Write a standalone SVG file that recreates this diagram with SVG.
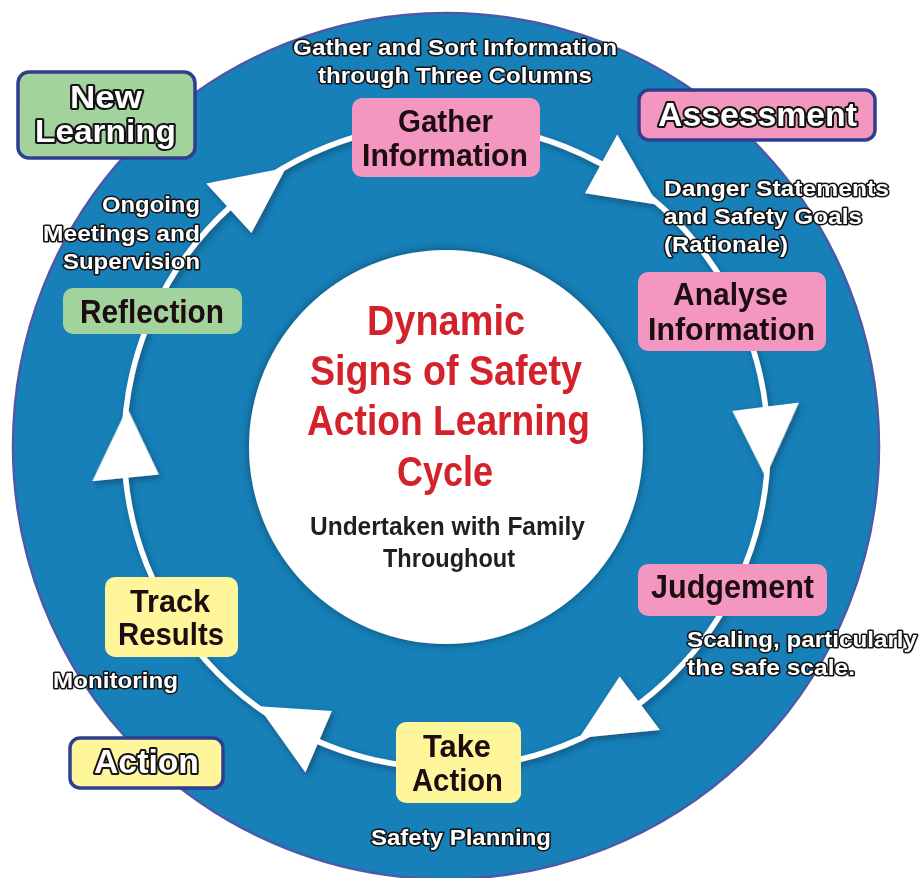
<svg xmlns="http://www.w3.org/2000/svg" width="920" height="878" viewBox="0 0 920 878">
<defs>
<filter id="sh" x="-20%" y="-20%" width="140%" height="140%">
<feDropShadow dx="2" dy="3" stdDeviation="3" flood-color="#0a3050" flood-opacity="0.55"/>
</filter>
<filter id="sh2" x="-20%" y="-20%" width="140%" height="140%">
<feDropShadow dx="0" dy="0" stdDeviation="4" flood-color="#06304d" flood-opacity="0.7"/>
</filter>
<polygon id="arrow" points="734.5,446 801.5,446 759.4,515.5"/>
</defs>
<style>
.node text{font-family:"Liberation Sans",Arial,sans-serif;font-weight:bold;font-size:34px;fill:#1d0d10;text-anchor:middle}
.node text.two{font-size:30.5px}
.pink{fill:#f397c1}
.yellow{fill:#fff69c}
.green{fill:#a3d39c}
.framed{stroke:#2f3f8f;stroke-width:3.5}
.outl{font-family:"Liberation Sans",Arial,sans-serif;font-weight:bold;fill:#ffffff;stroke:#141414;stroke-linejoin:round;paint-order:stroke}
.big{font-size:34px;stroke-width:4;text-anchor:middle}
.big.two{font-size:30.5px}
.note{font-size:22px;stroke-width:3}
.title{font-family:"Liberation Sans",Arial,sans-serif;font-weight:bold;font-size:42px;fill:#d4222a;text-anchor:middle}
.sub{font-family:"Liberation Sans",Arial,sans-serif;font-weight:bold;font-size:26px;fill:#231f20;text-anchor:middle}
</style>
<rect width="920" height="878" fill="#ffffff"/>
<circle cx="446" cy="446" r="433" fill="#1780b8" stroke="#4b59a8" stroke-width="2.5"/>
<circle cx="446" cy="447" r="197" fill="#ffffff" filter="url(#sh2)"/>

<g id="connectors" fill="#ffffff" filter="url(#sh)">
<circle cx="446" cy="446" r="322" fill="none" stroke="#ffffff" stroke-width="5.5"/>
<use href="#arrow" transform="rotate(-132.4 446 446)"/>
<use href="#arrow" transform="rotate(-61.2 446 446)"/>
<use href="#arrow" transform="rotate(-7 446 446)"/>
<use href="#arrow" transform="rotate(53 446 446)"/>
<use href="#arrow" transform="rotate(113.3 446 446)"/>
<use href="#arrow" transform="rotate(174.3 446 446)"/>
</g>

<g id="center">
<text class="title" x="446" y="335" textLength="158" lengthAdjust="spacingAndGlyphs">Dynamic</text>
<text class="title" x="446" y="385" textLength="272" lengthAdjust="spacingAndGlyphs">Signs of Safety</text>
<text class="title" x="448.5" y="435" textLength="283" lengthAdjust="spacingAndGlyphs">Action Learning</text>
<text class="title" x="445" y="486" textLength="96" lengthAdjust="spacingAndGlyphs">Cycle</text>
<text class="sub" x="447.5" y="535" textLength="275" lengthAdjust="spacingAndGlyphs">Undertaken with Family</text>
<text class="sub" x="449" y="567" textLength="132" lengthAdjust="spacingAndGlyphs">Throughout</text>
</g>

<g id="gather" class="node">
<rect class="pink" x="352" y="98" width="188" height="79" rx="10"/>
<text class="two" x="445.5" y="132" textLength="95" lengthAdjust="spacingAndGlyphs">Gather</text>
<text class="two" x="445" y="166" textLength="166" lengthAdjust="spacingAndGlyphs">Information</text>
</g>
<g id="analyse" class="node">
<rect class="pink" x="638" y="272" width="188" height="79" rx="10"/>
<text class="two" x="730.5" y="305" textLength="115" lengthAdjust="spacingAndGlyphs">Analyse</text>
<text class="two" x="731.5" y="340" textLength="167" lengthAdjust="spacingAndGlyphs">Information</text>
</g>
<g id="judgement" class="node">
<rect class="pink" x="638" y="564" width="189" height="52" rx="10"/>
<text x="732.5" y="598" textLength="163" lengthAdjust="spacingAndGlyphs">Judgement</text>
</g>
<g id="take-action" class="node">
<rect class="yellow" x="396" y="722" width="125" height="81" rx="10"/>
<text class="two" x="457" y="757" textLength="68" lengthAdjust="spacingAndGlyphs">Take</text>
<text class="two" x="457.5" y="791" textLength="91" lengthAdjust="spacingAndGlyphs">Action</text>
</g>
<g id="track-results" class="node">
<rect class="yellow" x="105" y="577" width="133" height="80" rx="10"/>
<text class="two" x="170" y="612" textLength="80" lengthAdjust="spacingAndGlyphs">Track</text>
<text class="two" x="171" y="645" textLength="106" lengthAdjust="spacingAndGlyphs">Results</text>
</g>
<g id="reflection" class="node">
<rect class="green" x="63" y="288" width="179" height="46" rx="10"/>
<text x="152" y="323" textLength="144" lengthAdjust="spacingAndGlyphs">Reflection</text>
</g>

<g id="new-learning">
<rect class="green framed" x="18" y="72" width="177" height="86" rx="11"/>
<text class="outl big two" x="106" y="108" textLength="72" lengthAdjust="spacingAndGlyphs">New</text>
<text class="outl big two" x="105.5" y="142" textLength="141" lengthAdjust="spacingAndGlyphs">Learning</text>
</g>
<g id="assessment">
<rect class="pink framed" x="639" y="90" width="236" height="50" rx="10"/>
<text class="outl big" x="757.5" y="126" textLength="199" lengthAdjust="spacingAndGlyphs">Assessment</text>
</g>
<g id="action">
<rect class="yellow framed" x="70" y="738" width="153" height="50" rx="10"/>
<text class="outl big" x="146.5" y="773" textLength="105" lengthAdjust="spacingAndGlyphs">Action</text>
</g>

<g id="notes">
<text class="outl note" x="455" y="55" text-anchor="middle" textLength="324" lengthAdjust="spacingAndGlyphs">Gather and Sort Information</text>
<text class="outl note" x="455" y="83" text-anchor="middle" textLength="274" lengthAdjust="spacingAndGlyphs">through Three Columns</text>
<text class="outl note" x="664" y="196" textLength="225" lengthAdjust="spacingAndGlyphs">Danger Statements</text>
<text class="outl note" x="664" y="224" textLength="198" lengthAdjust="spacingAndGlyphs">and Safety Goals</text>
<text class="outl note" x="664" y="252" textLength="124" lengthAdjust="spacingAndGlyphs">(Rationale)</text>
<text class="outl note" x="687" y="647" textLength="230" lengthAdjust="spacingAndGlyphs">Scaling, particularly</text>
<text class="outl note" x="687" y="675" textLength="168" lengthAdjust="spacingAndGlyphs">the safe scale.</text>
<text class="outl note" x="371" y="845" textLength="180" lengthAdjust="spacingAndGlyphs">Safety Planning</text>
<text class="outl note" x="53" y="688" textLength="125" lengthAdjust="spacingAndGlyphs">Monitoring</text>
<text class="outl note" x="200" y="212" text-anchor="end" textLength="98" lengthAdjust="spacingAndGlyphs">Ongoing</text>
<text class="outl note" x="200" y="241" text-anchor="end" textLength="157" lengthAdjust="spacingAndGlyphs">Meetings and</text>
<text class="outl note" x="200" y="269" text-anchor="end" textLength="137" lengthAdjust="spacingAndGlyphs">Supervision</text>
</g>
</svg>
